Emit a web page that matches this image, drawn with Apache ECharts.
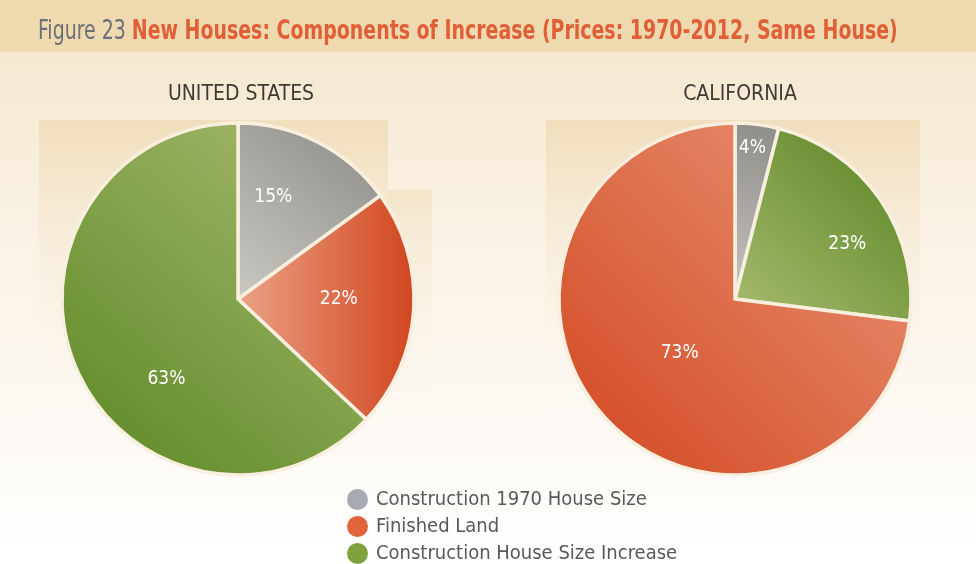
<!DOCTYPE html>
<html>
<head>
<meta charset="utf-8">
<script src="https://cdn.jsdelivr.net/npm/echarts@6/dist/echarts.min.js"></script>
<style>
  html, body { margin: 0; padding: 0; background: #fff; }
  #chart { width: 976px; height: 564px; }
</style>
</head>
<body>
<div id="chart"></div>
<script>
// data
const categories = ['Construction 1970 House Size', 'Finished Land', 'Construction House Size Increase'];
const usValues = [15, 22, 63];
const caValues = [4, 73, 23];
// California slices run gray, green, orange going clockwise
const caOrder = [0, 2, 1];
const panelTitles = ['UNITED STATES', 'CALIFORNIA'];
const figureLabel = 'Figure 23 ';
const figureTitle = 'New Houses: Components of Increase (Prices: 1970-2012, Same House)';

const FONT = "'DejaVu Sans Condensed', 'Liberation Sans Narrow', 'Roboto', sans-serif";
const legendColors = ['#a7abb1', '#e0643c', '#7fa13e'];

function grad(x, y, x2, y2, c1, c2) {
    return new echarts.graphic.LinearGradient(x, y, x2, y2, [
        { offset: 0, color: c1 }, { offset: 1, color: c2 }
    ]);
}

// slice fills, per pie
const usFills = [
    grad(0, 1, 1, 0, '#cac8c2', '#8a8a86'),
    grad(0, 0.5, 1, 0.5, '#eba386', '#d1451e'),
    grad(0, 1, 1, 0, '#5a8722', '#a9bc72')
];
const caFills = [
    grad(0, 1, 1, 0, '#c6c4be', '#8c8c88'),
    grad(0, 1, 1, 0, '#d2461f', '#e9987a'),
    grad(0, 1, 1, 0, '#a9bc72', '#56821e')
];

// label nudges to match where the labels sit
const labelShift = [
    [[-6, -21], [10, -6], [12, 44]],
    [[6, -61], [37, -4], [13, -6]]
];

function buildData(values, fills, order) {
    return order.map(function (i) {
        return { name: categories[i], value: values[i], itemStyle: { color: fills[i] } };
    });
}

const chart = echarts.init(document.getElementById('chart'), null, { renderer: 'canvas' });

const pieBase = {
    type: 'pie',
    radius: 176,
    startAngle: 90,
    clockwise: true,
    avoidLabelOverlap: false,
    silent: true,
    itemStyle: { borderColor: '#f8efdf', borderWidth: 3.5 },
    label: {
        show: true,
        position: 'inside',
        formatter: '{c}%',
        color: '#ffffff',
        fontFamily: FONT,
        fontSize: 19
    },
    labelLine: { show: false },
    labelLayout: function (p) {
        const s = labelShift[p.seriesIndex][p.dataIndex];
        return { dx: s[0], dy: s[1] };
    }
};

const option = {
    backgroundColor: grad(0, 0, 0, 1, '#f5e8cf', '#ffffff'),
    graphic: [
        // title band
        { type: 'rect', shape: { x: 0, y: 0, width: 976, height: 52 }, style: { fill: '#efd9ae' }, z: -10 },
        // page tint
        { type: 'rect', shape: { x: 0, y: 52, width: 976, height: 420 },
          style: { fill: grad(0, 0, 0, 1, 'rgba(245,232,208,0.9)', 'rgba(255,255,255,0)') }, z: -10 },
        // panels behind pies
        { type: 'rect', shape: { x: 39, y: 120, width: 349, height: 330 },
          style: { fill: grad(0, 0, 0, 1, 'rgba(236,214,170,0.6)', 'rgba(255,255,255,0)') }, z: -9 },
        { type: 'rect', shape: { x: 388, y: 190, width: 44, height: 260 },
          style: { fill: grad(0, 0, 0, 1, 'rgba(236,214,170,0.4)', 'rgba(255,255,255,0)') }, z: -9 },
        { type: 'rect', shape: { x: 546, y: 120, width: 374, height: 330 },
          style: { fill: grad(0, 0, 0, 1, 'rgba(236,214,170,0.6)', 'rgba(255,255,255,0)') }, z: -9 },
        // figure title, squeezed to a condensed width
        {
            type: 'text', left: 38, top: 19, scaleX: 0.81, originX: 0,
            style: {
                text: '{a|' + figureLabel + '}{b|' + figureTitle + '}',
                rich: {
                    a: { fontFamily: FONT, fontSize: 26, fill: '#6b6f78' },
                    b: { fontFamily: FONT, fontSize: 26, fontWeight: 'bold', fill: '#e05f37' }
                }
            }
        }
    ],
    title: [
        {
            left: 236, top: 79, textAlign: 'center',
            text: panelTitles[0],
            textStyle: { fontFamily: FONT, fontSize: 21, fontWeight: 'normal', color: '#3e3a33', backgroundColor: '#edd7ab', padding: [1, 2] }
        },
        {
            left: 735, top: 79, textAlign: 'center',
            text: panelTitles[1],
            textStyle: { fontFamily: FONT, fontSize: 21, fontWeight: 'normal', color: '#3e3a33', backgroundColor: '#edd7ab', padding: [1, 2] }
        }
    ],
    legend: {
        orient: 'vertical',
        left: 347, top: 489,
        height: 90,
        padding: 0,
        icon: 'circle',
        itemWidth: 21, itemHeight: 21,
        itemGap: 6,
        selectedMode: false,
        textStyle: { fontFamily: FONT, fontSize: 20, lineHeight: 21, color: '#58585a', padding: [0, 0, 0, 3] },
        data: categories.map(function (c, i) {
            return { name: c, itemStyle: { color: legendColors[i], borderWidth: 0 } };
        })
    },
    series: [
        Object.assign({}, pieBase, { name: 'US', center: [238, 299], data: buildData(usValues, usFills, [0, 1, 2]) }),
        Object.assign({}, pieBase, { name: 'CA', center: [735, 299], data: buildData(caValues, caFills, caOrder) })
    ]
};

chart.setOption(option);
</script>
</body>
</html>
